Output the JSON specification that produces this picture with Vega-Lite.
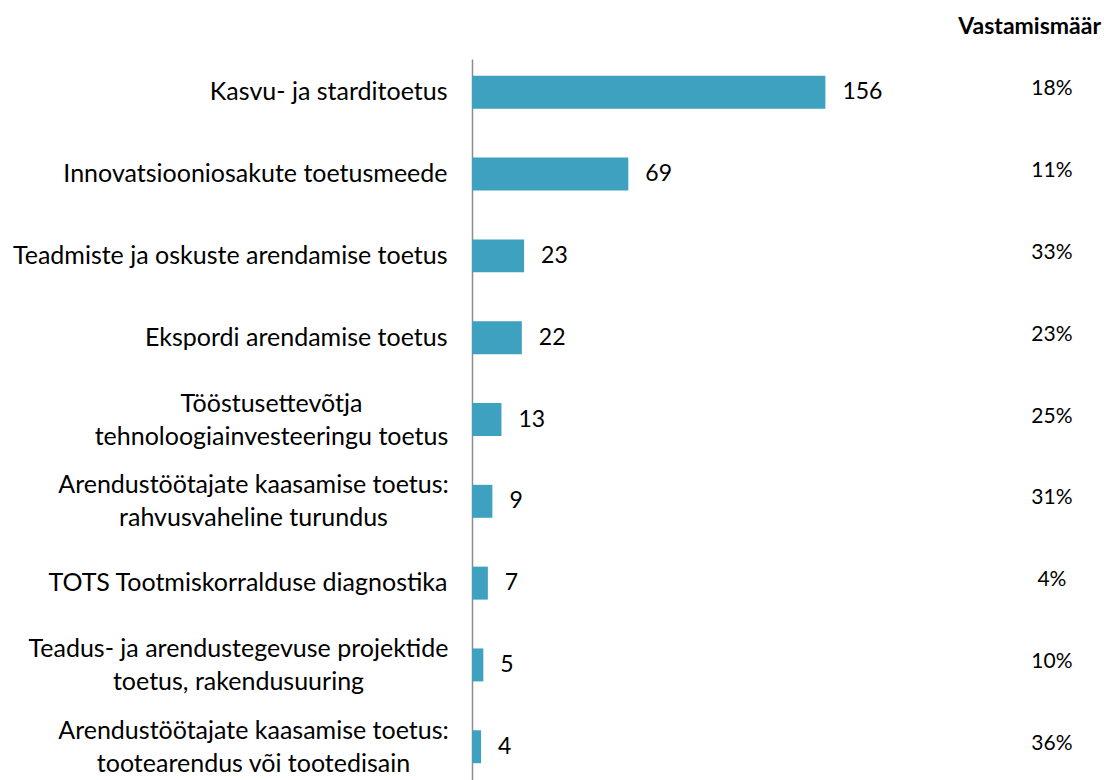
{
  "$schema": "https://vega.github.io/schema/vega-lite/v6.json",
  "autosize": {"type": "none"},
  "padding": {"left": 472, "top": 59, "right": 0, "bottom": 0},
  "width": 632,
  "height": 721,
  "config": {"view": {"stroke": null}, "font": "Lato"},
  "title": {"text": "Vastamismäär", "anchor": "end", "fontWeight": "bold", "fontSize": 23, "font": "Lato", "color": "#000000", "baseline": "alphabetic", "offset": 2, "dx": -3},
  "data": {"values": [
    {"label": "Kasvu- ja starditoetus", "value": 156, "rate": "18%"},
    {"label": "Innovatsiooniosakute toetusmeede", "value": 69, "rate": "11%"},
    {"label": "Teadmiste ja oskuste arendamise toetus", "value": 23, "rate": "33%"},
    {"label": "Ekspordi arendamise toetus", "value": 22, "rate": "23%"},
    {"label": "Tööstusettevõtja|tehnoloogiainvesteeringu toetus", "value": 13, "rate": "25%"},
    {"label": "Arendustöötajate kaasamise toetus:|rahvusvaheline turundus", "value": 9, "rate": "31%"},
    {"label": "TOTS Tootmiskorralduse diagnostika", "value": 7, "rate": "4%"},
    {"label": "Teadus- ja arendustegevuse projektide|toetus, rakendusuuring", "value": 5, "rate": "10%"},
    {"label": "Arendustöötajate kaasamise toetus:|tootearendus või tootedisain", "value": 4, "rate": "36%"}
  ]},
  "encoding": {
    "y": {"field": "label", "type": "nominal", "sort": null,
      "scale": {"paddingInner": 0.597, "paddingOuter": 0.205},
      "axis": {"title": null, "ticks": false, "domainColor": "#8c8c8c", "domainWidth": 1.5, "labelFont": "Lato", "labelFontSize": 25, "labelColor": "#000000", "labelExpr": "split(datum.label, '|')", "labelLineHeight": 33, "labelLimit": 0,
        "labelOffset": {"condition": {"test": "indexof(datum.value, '|') >= 0", "value": -16}, "value": 0},
        "labelAlign": {"condition": {"test": "indexof(datum.value, '|') >= 0", "value": "center"}, "value": "right"},
        "labelPadding": {"condition": [
          {"test": "indexof(datum.value, 'Tööstus') >= 0", "value": 201},
          {"test": "indexof(datum.value, 'Arendustöötajate') >= 0", "value": 219},
          {"test": "indexof(datum.value, 'Teadus-') >= 0", "value": 234}
        ], "value": 25}}}
  },
  "layer": [
    {"mark": {"type": "bar", "color": "#3da1bf"},
     "encoding": {"x": {"field": "value", "type": "quantitative", "scale": {"domain": [0, 279], "nice": false}, "axis": null}}},
    {"mark": {"type": "text", "align": "left", "baseline": "middle", "dx": 17, "fontSize": 23, "color": "#000000"},
     "encoding": {"x": {"field": "value", "type": "quantitative"}, "text": {"field": "value", "type": "quantitative"}}},
    {"mark": {"type": "text", "align": "center", "baseline": "middle", "dy": -3, "fontSize": 21, "color": "#000000"},
     "encoding": {"x": {"datum": 256, "type": "quantitative"}, "text": {"field": "rate", "type": "nominal"}}}
  ]
}
